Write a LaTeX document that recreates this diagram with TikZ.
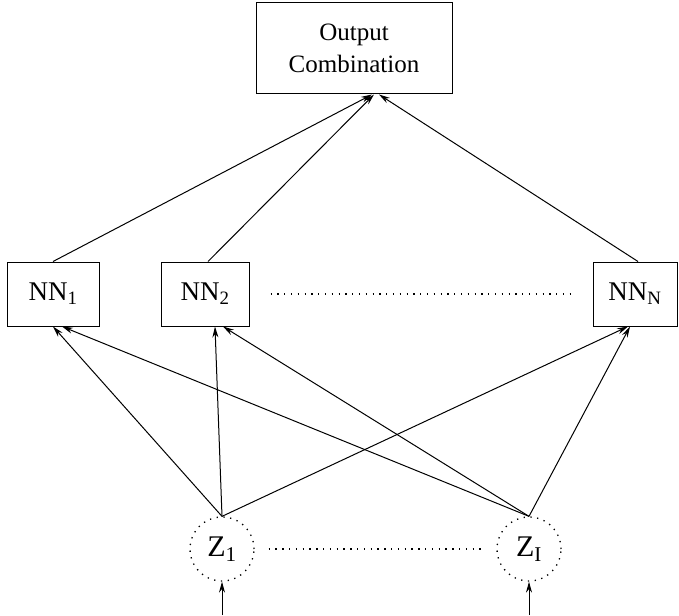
\documentclass[tikz,border=0pt]{standalone}
\usepackage{fontspec}
\setmainfont{Liberation Serif}
\usetikzlibrary{arrows.meta}
\begin{document}
\begin{tikzpicture}[x=1pt,y=-1pt,>={Stealth[length=11pt,width=6pt]},
  line width=1pt,
  sparsedots/.style={line width=1.3pt,dash pattern=on 1.3pt off 5.5pt},
  netbox/.style={draw,rectangle,minimum height=64pt,inner sep=0pt,font=\fontsize{27}{32}\selectfont},
  inbox/.style={draw,circle,sparsedots,minimum size=64pt,inner sep=0pt,font=\fontsize{30}{34}\selectfont}]
\useasboundingbox (0,0) rectangle (679,615);
\node[draw,rectangle,minimum width=196pt,minimum height=91pt,align=center,
  font=\fontsize{25}{32}\selectfont] (out) at (354,48.5) {Output\\Combination};
\node[netbox,minimum width=92pt] (nn1) at (53,294) {NN\textsubscript{1}};
\node[netbox,minimum width=88pt] (nn2) at (205,294) {NN\textsubscript{2}};
\node[netbox,minimum width=84pt] (nnN) at (635,294) {NN\textsubscript{N}};
\node[inbox] (z1) at (222,549) {Z\textsubscript{1}};
\node[inbox] (zI) at (529,549) {Z\textsubscript{I}};
\coordinate (in1) at (222,615);
\coordinate (inI) at (529,615);
\draw[sparsedots,shorten <=21pt,shorten >=17pt] (nn2.east) -- (nnN.west);
\draw[sparsedots,shorten <=14pt,shorten >=15pt] (z1.east) -- (zI.west);
\draw[->] (nn1.north) -- ([xshift=18pt]out.south);
\draw[->] ([xshift=3pt]nn2.north) -- ([xshift=20pt]out.south);
\draw[->] ([xshift=3pt]nnN.north) -- ([xshift=25pt]out.south);
\draw[->] (z1.north) -- (nn1.south);
\draw[->] (z1.north) -- ([xshift=10pt]nn2.south);
\draw[->] (z1.north) -- ([xshift=-7pt]nnN.south);
\draw[->] (zI.north) -- ([xshift=9pt]nn1.south);
\draw[->] (zI.north) -- ([xshift=18pt]nn2.south);
\draw[->] (zI.north) -- ([xshift=-5pt]nnN.south);
\draw[->] (in1) -- (z1.south);
\draw[->] (inI) -- (zI.south);
\end{tikzpicture}
\end{document}
